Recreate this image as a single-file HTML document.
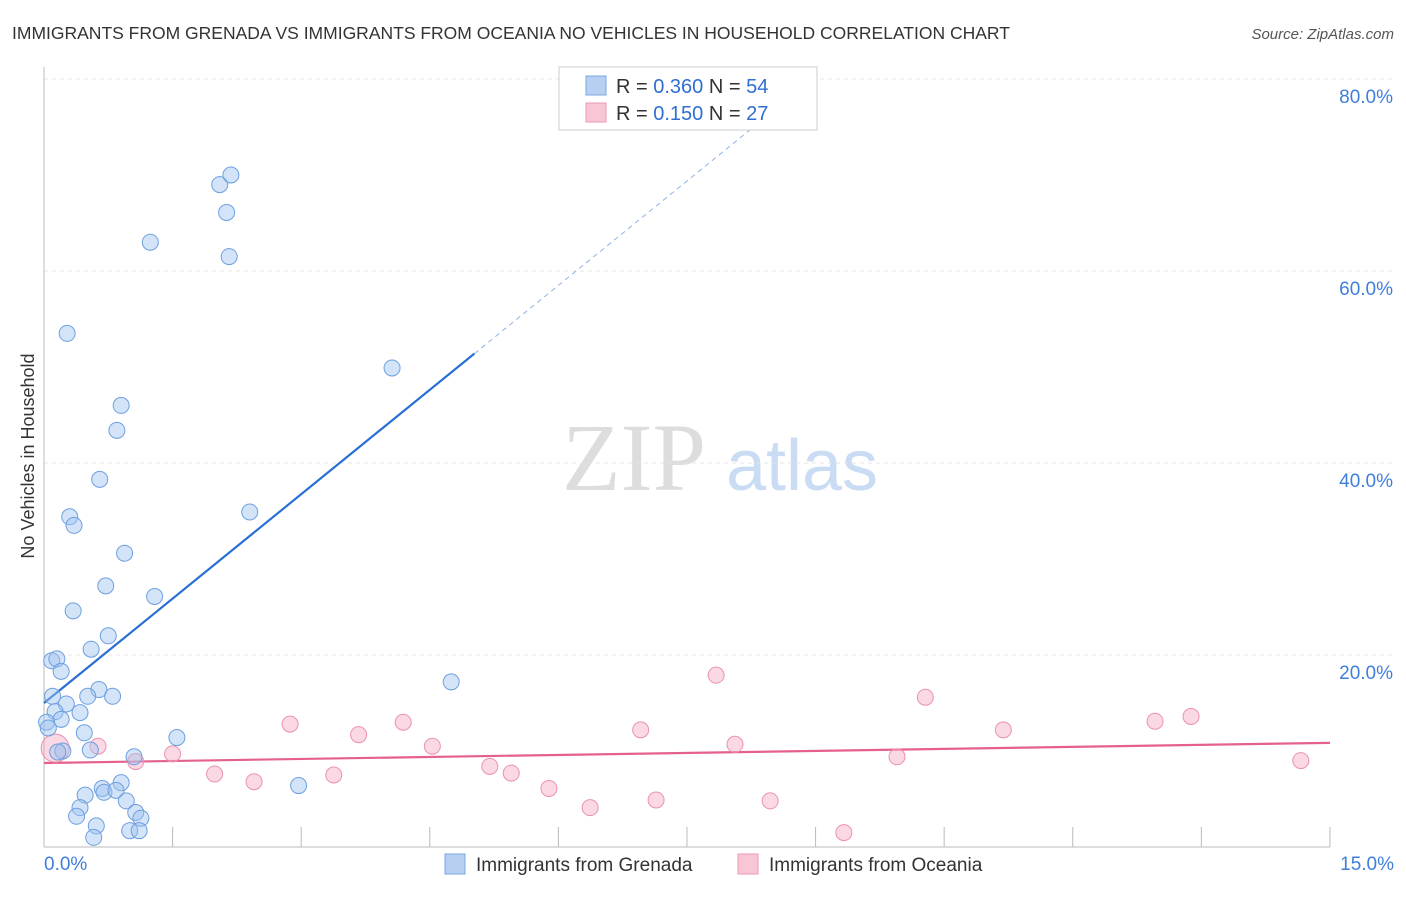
<!DOCTYPE html>
<html><head><meta charset="utf-8"><style>
body{margin:0;background:#fff;font-family:"Liberation Sans",sans-serif}
</style></head><body>
<svg id="chart" width="1406" height="892" xmlns="http://www.w3.org/2000/svg" font-family="Liberation Sans, sans-serif">
<text x="12" y="39" font-size="17.5" fill="#333">IMMIGRANTS FROM GRENADA VS IMMIGRANTS FROM OCEANIA NO VEHICLES IN HOUSEHOLD CORRELATION CHART</text>
<text x="1394" y="39" font-size="15" fill="#555" font-style="italic" text-anchor="end">Source: ZipAtlas.com</text>
<text transform="translate(34,456) rotate(-90)" font-size="18" fill="#333" text-anchor="middle">No Vehicles in Household</text>
<g>
<text x="634" y="490" font-size="96" font-family="Liberation Serif, serif" fill="#ddd" text-anchor="middle">ZIP</text>
<text x="802" y="490" font-size="72" fill="#c9dcf3" text-anchor="middle">atlas</text>
</g>
<g id="grid"></g><g id="axes"></g><g id="lines"></g><g id="pts"></g>
<g>
<rect x="559" y="67" width="258" height="63" fill="#fff" stroke="#ccc"/>
<rect x="586" y="76" width="20" height="19" fill="#b7d0f2" stroke="#7aa7e3"/>
<text x="616" y="93" font-size="20" fill="#333">R = <tspan fill="#2f6fd3">0.360</tspan>   N = <tspan fill="#2f6fd3">54</tspan></text>
<rect x="586" y="103" width="20" height="19" fill="#f8c6d4" stroke="#eb9ab2"/>
<text x="616" y="120" font-size="20" fill="#333">R =  <tspan fill="#2f6fd3">0.150</tspan>   N = <tspan fill="#2f6fd3">27</tspan></text>
</g>
<g>
<rect x="445" y="854" width="20" height="20" fill="#b7d0f2" stroke="#7aa7e3"/>
<text x="476" y="871" font-size="19" fill="#333">Immigrants from Grenada</text>
<rect x="738" y="854" width="20" height="20" fill="#f8c6d4" stroke="#eb9ab2"/>
<text x="769" y="871" font-size="19" fill="#333">Immigrants from Oceania</text>
</g>
</svg>
<script>
const blueX=[0.27,1.24,2.05,2.18,2.13,2.16,0.90,0.85,0.65,0.30,0.35,0.94,2.40,0.72,1.29,0.34,0.75,0.55,0.09,0.15,0.20,4.06,4.75,0.10,0.64,0.80,0.51,0.26,0.13,0.20,0.42,0.03,0.47,1.55,0.54,0.22,1.05,0.90,0.68,0.70,0.84,0.48,0.96,2.97,0.42,0.38,1.07,1.13,0.61,1.00,1.11,0.58,0.16,0.05];
const blueY=[53.5,63.0,69.0,70.0,66.1,61.5,46.0,43.4,38.3,34.4,33.5,30.6,34.9,27.2,26.1,24.6,22.0,20.6,19.4,19.6,18.3,49.9,17.2,15.7,16.4,15.7,15.7,14.9,14.1,13.3,14.0,13.0,11.9,11.4,10.1,10.0,9.4,6.7,6.1,5.7,5.9,5.4,4.8,6.4,4.1,3.2,3.6,3.0,2.2,1.7,1.7,1.0,9.9,12.4];
const pinkX=[0.13,0.63,1.07,1.50,1.99,2.45,2.87,3.38,3.67,4.19,4.53,5.20,5.45,5.89,6.37,6.96,7.14,8.06,7.84,8.47,9.33,9.95,10.28,11.19,12.96,13.38,14.66];
const pinkY=[10.3,10.5,8.9,9.7,7.6,6.8,12.8,7.5,11.7,13.0,10.5,8.4,7.7,6.1,4.1,12.2,4.9,10.7,17.9,4.8,1.5,9.4,15.6,12.2,13.1,13.6,9.0];
const blueTrend=[15.0,7.25];
const pinkTrend=[8.75,0.14];
const yTicks=[20,40,60,80];
const yTickLabels=["20.0%","40.0%","60.0%","80.0%"];
const xTicks=[0,1.5,3,4.5,6,7.5,9,10.5,12,13.5,15];

const NS="http://www.w3.org/2000/svg";
const X=v=>44+v*85.73, Y=v=>847-v*9.6;
function mk(p,t,a){const e=document.createElementNS(NS,t);for(const k in a)e.setAttribute(k,a[k]);document.getElementById(p).appendChild(e);return e;}
yTicks.forEach((t,i)=>{
 const g=mk('grid','line',{x1:44,x2:1394,y1:Y(t),y2:Y(t),stroke:'#e4e4e4','stroke-dasharray':'4,4'});
 
 
 const l=mk('axes','text',{x:1393,y:Y(t)+24,'font-size':19,fill:'#3f7fdc','text-anchor':'end'});
 l.textContent=yTickLabels[i];
 
 
});
const ax=mk('axes','line',{x1:44,x2:44,y1:67,y2:847,stroke:'#bbb'});


const bx=mk('axes','line',{x1:44,x2:1330,y1:847,y2:847,stroke:'#bbb'});


xTicks.forEach(t=>{const e=mk('axes','line',{x1:X(t),x2:X(t),y1:827,y2:847,stroke:'#bbb'});
 
 });
const xl0=mk('axes','text',{x:44,y:870,'font-size':19,fill:'#3f7fdc'});xl0.textContent=xTicks[0].toFixed(1)+'%';


const xl1=mk('axes','text',{x:1394,y:870,'font-size':19,fill:'#3f7fdc','text-anchor':'end'});xl1.textContent=xTicks[xTicks.length-1].toFixed(1)+'%';


// trend lines
const bEnd=5.02, bDash=(80-blueTrend[0])/blueTrend[1];
const t1=mk('lines','line',{x1:X(0),y1:Y(blueTrend[0]),x2:X(bEnd),y2:Y(blueTrend[0]+blueTrend[1]*bEnd),stroke:'#2a6fd6','stroke-width':2.2});


const t2=mk('lines','line',{x1:X(bEnd),y1:Y(blueTrend[0]+blueTrend[1]*bEnd),x2:X(bDash),y2:Y(80),stroke:'#8fb3e6','stroke-width':1,'stroke-dasharray':'5,4'});


const t3=mk('lines','line',{x1:X(0),y1:Y(pinkTrend[0]),x2:X(15),y2:Y(pinkTrend[0]+pinkTrend[1]*15),stroke:'#e5608c','stroke-width':2.2});


pinkX.forEach((x,i)=>{const c=mk('pts','circle',{cx:X(x),cy:Y(pinkY[i]),r:i==0?14:8,fill:'rgba(245,170,195,0.45)',stroke:'#eb92ae','stroke-width':1});
 
 });
blueX.forEach((x,i)=>{const c=mk('pts','circle',{cx:X(x),cy:Y(blueY[i]),r:8,fill:'rgba(160,195,240,0.45)',stroke:'#6d9fe0','stroke-width':1});
 
 });
</script>
</body></html>
